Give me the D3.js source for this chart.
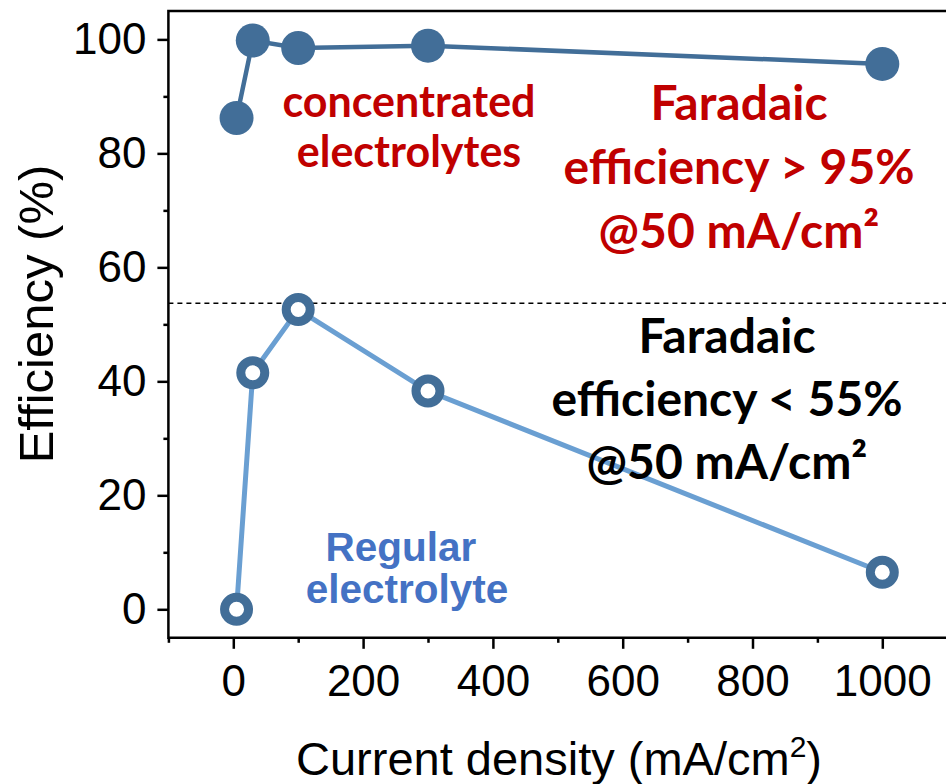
<!DOCTYPE html>
<html>
<head>
<meta charset="utf-8">
<script src="https://cdn.jsdelivr.net/npm/d3@7"></script>
<style>
  body { margin: 0; background: #ffffff; }
  svg { display: block; }
</style>
</head>
<body>
<svg id="chart" width="946" height="784"></svg>
<script>
// Faradaic efficiency vs. current density for two electrolytes
const currentDensity = [5, 30, 100, 300, 1000];           // mA/cm2
const concentratedFE = [86.2, 99.8, 98.5, 98.9, 95.7];      // %
const regularFE      = [0, 41.5, 52.6, 38.3, 6.5];          // %
const thresholdFE = 53.7;                                    // dashed reference level

const xTicks = [0, 200, 400, 600, 800, 1000];
const xMinorTicks = [-100, 100, 300, 500, 700, 900, 1100];
const yTicks = [0, 20, 40, 60, 80, 100];
const yMinorTicks = [10, 30, 50, 70, 90];

const concentratedLabel = ["concentrated", "electrolytes"];
const highNote = ["Faradaic", "efficiency > 95%", "@50 mA/cm\u00B2"];
const lowNote = ["Faradaic", "efficiency < 55%", "@50 mA/cm\u00B2"];
const regularLabel = ["Regular", "electrolyte"];

const markerColor = "#426e98";
const regularLine = "#6a9fd2";
const red = "#c00000";
const blue = "#4472c4";
const axisFont = "'Liberation Sans', Arial, sans-serif";
const noteFont = "Lato, 'Open Sans', sans-serif";

const svg = d3.select("#chart");
const x = d3.scaleLinear().domain([-100, 1100]).range([168.4, 947.2]);
const y = d3.scaleLinear().domain([-5, 105]).range([637.8, 10.9]);

// plot frame: top, left and bottom edges (right edge falls outside the view)
svg.append("path")
  .attr("d", `M${x(1100) + 5},${y(105)}H${x(-100)}V${y(-5)}H${x(1100) + 5}`)
  .attr("fill", "none").attr("stroke", "#000").attr("stroke-width", 2.5);

// axes
const xAxis = svg.append("g").attr("transform", `translate(0,${y(-5)})`)
  .call(d3.axisBottom(x).tickValues(xTicks).tickFormat(d3.format("d"))
    .tickSize(11).tickSizeOuter(0).tickPadding(16));
const xMinor = svg.append("g").attr("transform", `translate(0,${y(-5)})`)
  .call(d3.axisBottom(x).tickValues(xMinorTicks).tickFormat("").tickSize(5).tickSizeOuter(0));
const yAxis = svg.append("g").attr("transform", `translate(${x(-100)},0)`)
  .call(d3.axisLeft(y).tickValues(yTicks).tickFormat(d3.format("d"))
    .tickSize(11).tickSizeOuter(0).tickPadding(11));
const yMinor = svg.append("g").attr("transform", `translate(${x(-100)},0)`)
  .call(d3.axisLeft(y).tickValues(yMinorTicks).tickFormat("").tickSize(5).tickSizeOuter(0));

[xAxis, xMinor, yAxis, yMinor].forEach(g => {
  g.select(".domain").remove();
  g.selectAll("line").attr("stroke", "#000").attr("stroke-width", 2.5);
  g.selectAll("text").attr("fill", "#000")
    .style("font-family", axisFont).style("font-size", "44px");
});

// axis titles
svg.append("text")
  .attr("x", 559).attr("y", 775)
  .attr("text-anchor", "middle")
  .style("font-family", axisFont).style("font-size", "47px")
  .call(t => {
    t.append("tspan").text("Current density (mA/cm");
    t.append("tspan").attr("dy", -18).style("font-size", "30px").text("2");
    t.append("tspan").attr("dy", 18).text(")");
  });

svg.append("text")
  .attr("transform", "translate(52.7,314) rotate(-90)")
  .attr("text-anchor", "middle")
  .style("font-family", axisFont).style("font-size", "49px")
  .text("Efficiency (%)");

// dashed threshold
svg.append("line")
  .attr("x1", x(-100)).attr("x2", x(1100))
  .attr("y1", y(thresholdFE)).attr("y2", y(thresholdFE))
  .attr("stroke", "#000").attr("stroke-width", 1.3)
  .attr("stroke-dasharray", "5,4");

const line = d3.line().x(d => x(d[0])).y(d => y(d[1]));
const conc = currentDensity.map((c, i) => [c, concentratedFE[i]]);
const reg = currentDensity.map((c, i) => [c, regularFE[i]]);

// regular electrolyte: light line, open markers
svg.append("path").datum(reg).attr("d", line)
  .attr("fill", "none").attr("stroke", regularLine).attr("stroke-width", 5);
svg.selectAll(".reg").data(reg).join("circle").attr("class", "reg")
  .attr("cx", d => x(d[0])).attr("cy", d => y(d[1])).attr("r", 12)
  .attr("fill", "#fff").attr("stroke", markerColor).attr("stroke-width", 9);

// concentrated electrolytes: dark line, filled markers
svg.append("path").datum(conc).attr("d", line)
  .attr("fill", "none").attr("stroke", markerColor).attr("stroke-width", 4.5);
svg.selectAll(".conc").data(conc).join("circle").attr("class", "conc")
  .attr("cx", d => x(d[0])).attr("cy", d => y(d[1])).attr("r", 17)
  .attr("fill", markerColor);

// annotations
function note(lines, cxs, baseline, step, size, color, family) {
  const t = svg.append("text")
    .attr("text-anchor", "middle")
    .attr("fill", color)
    .style("font-family", family).style("font-weight", "700")
    .style("font-size", size + "px");
  lines.forEach((s, i) => {
    t.append("tspan").attr("x", Array.isArray(cxs) ? cxs[i] : cxs)
      .attr("y", baseline + i * step).text(s);
  });
  return t;
}
note(concentratedLabel, 409, 117, 50, 43, red, noteFont);
note(highNote, 739, 120, 64, 48, red, noteFont);
note(lowNote, 727, 353, 63, 48, "#000", noteFont);
note(regularLabel, [401, 407], 561, 42, 40.5, blue, "'Liberation Sans', Arial, sans-serif");
</script>
</body>
</html>
